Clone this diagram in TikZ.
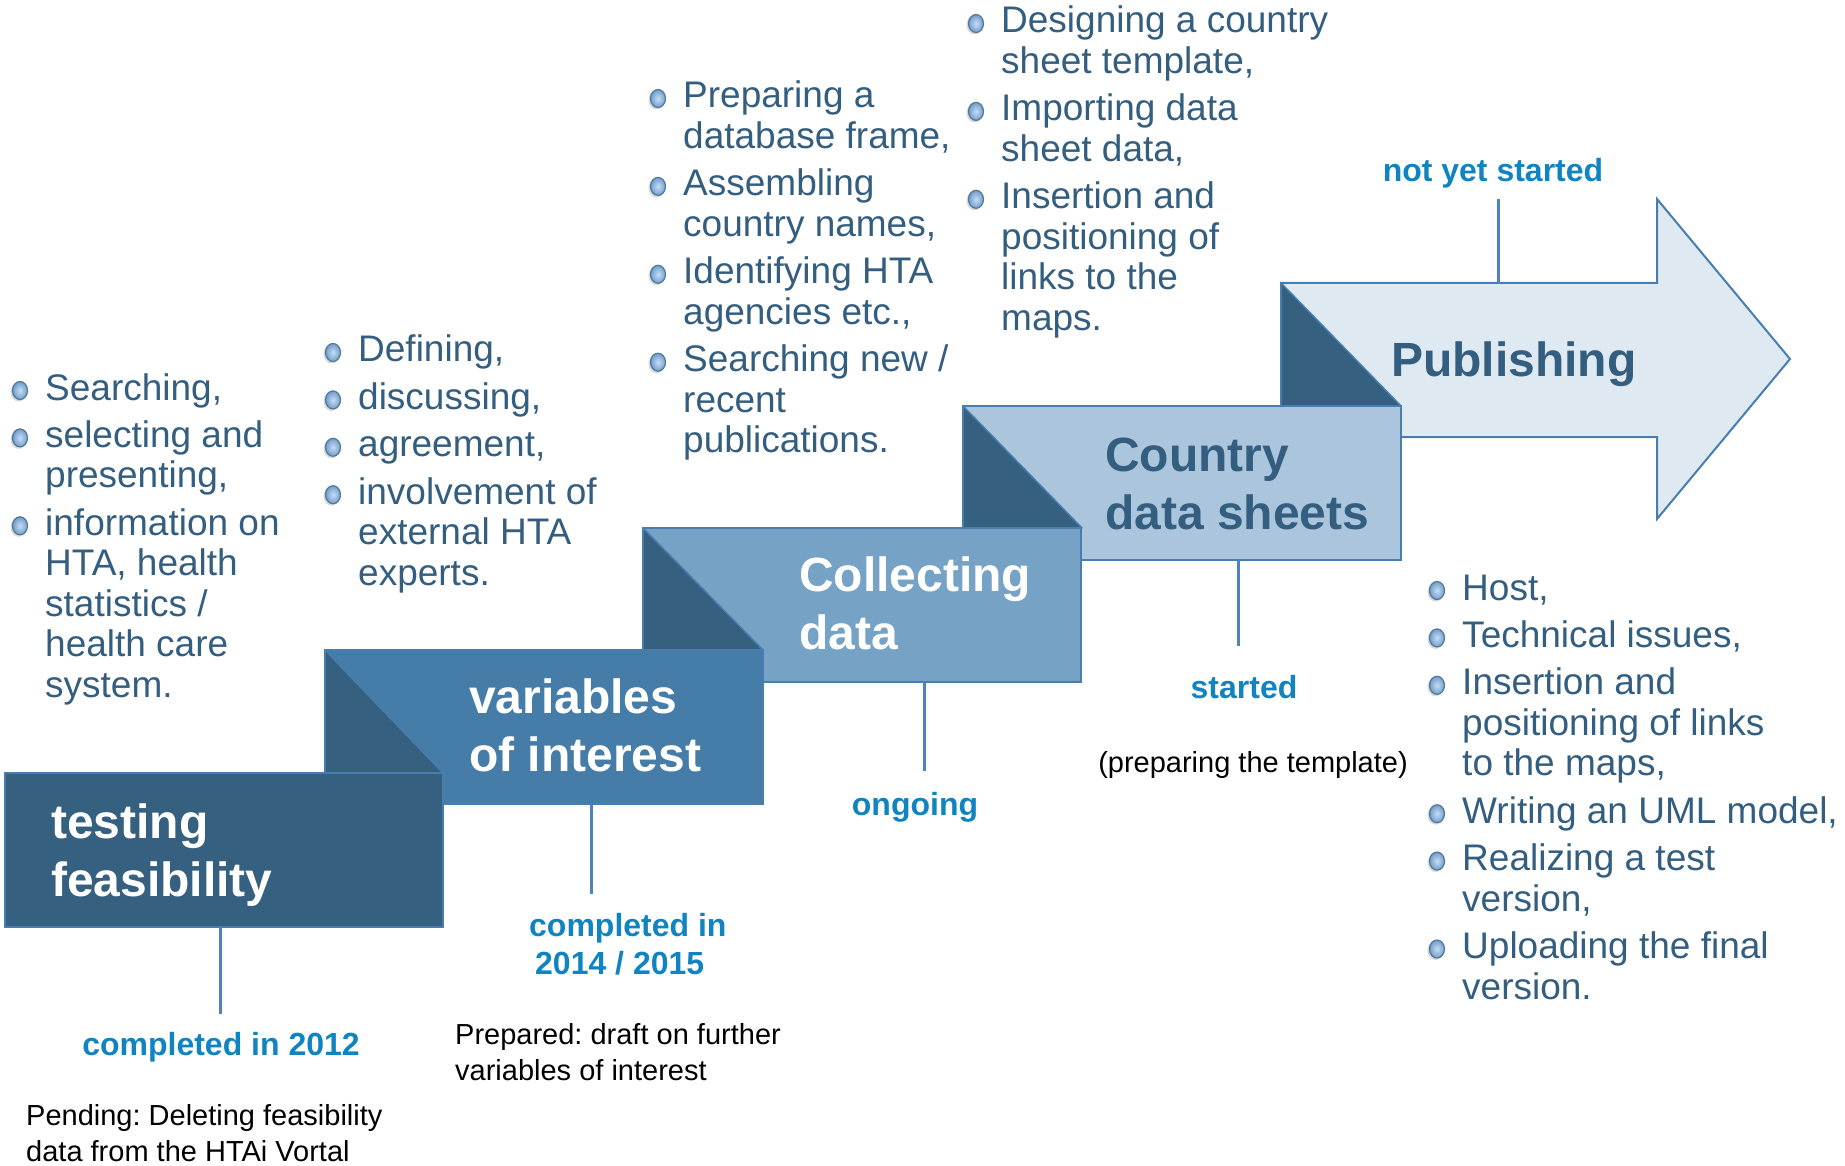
\documentclass[tikz,border=0pt]{standalone}
\usepackage{fontspec}
\setmainfont{Liberation Sans}
\usetikzlibrary{positioning,calc}
\frenchspacing

\definecolor{slate}{RGB}{54,96,127}
\definecolor{steel}{RGB}{69,124,168}
\definecolor{sky}{RGB}{118,162,198}
\definecolor{pale}{RGB}{171,198,220}
\definecolor{mist}{RGB}{223,233,242}
\definecolor{rim}{RGB}{72,125,176}
\definecolor{stemblue}{RGB}{79,129,189}
\definecolor{inkblue}{RGB}{52,94,128}
\definecolor{statusblue}{RGB}{16,132,192}
\definecolor{ballblue}{RGB}{130,178,232}

\newcommand{\linesof}[2][l]{\begin{tabular}[t]{@{}#1@{}}#2\end{tabular}}

\begin{document}
\begin{tikzpicture}[
x=1pt, y=-1pt,
stage/.style = {rectangle, draw=rim, line width=2pt, minimum width=438pt, minimum height=154pt, anchor=north west, inner sep=0pt, outer sep=0pt},
fold/.style = {fill=slate, draw=rim, line width=1.5pt, line join=round},
title/.style = {anchor=base west, inner sep=0pt, font=\bfseries\fontsize{48}{58}\selectfont, text=white},
task/.style = {anchor=base west, inner sep=0pt, font=\fontsize{37}{40.5}\selectfont, text=inkblue},
after/.style = {below=6.5pt of #1.south west, anchor=north west},
status/.style = {anchor=base, inner sep=0pt, font=\bfseries\fontsize{32}{38}\selectfont, text=statusblue},
remark/.style = {inner sep=0pt, font=\fontsize{29}{36}\selectfont, text=black},
stem/.style = {draw=stemblue, line width=3pt},
bead/.style = {inner color=ballblue!45!white, outer color=ballblue!75!slate, draw=slate!85, line width=1.2pt}
]
\useasboundingbox (0,0) rectangle (1845,1166);

% the arrow and the steps, back to front
\coordinate (pubNW) at (1281,283);
\draw[draw=rim, line width=2pt, fill=mist] (pubNW) -- ++(376,0) -- ++(0,-84) -- ++(133,160) -- ++(-133,160) -- ++(0,-82) -- ++(-376,0) -- cycle;
\draw[fold] (pubNW) -- ++(120,123) -- ++(-120,0) -- cycle;

\node[stage, fill=pale] (ctry) at (963,406) {};
\draw[fold] (ctry.north west) -- ++(119,122) -- ++(-119,0) -- cycle;

\node[stage, fill=sky] (coll) at (643,528) {};
\draw[fold] (coll.north west) -- ++(120,122) -- ++(-120,0) -- cycle;

\node[stage, fill=steel] (var) at (325,650) {};
\draw[fold] (var.north west) -- ++(118,123) -- ++(-118,0) -- cycle;

\node[stage, fill=slate] (feas) at (5,773) {};

% titles
\node[title] (feasTxt) at (51,838) {\linesof{testing\\feasibility}};
\node[title] (varTxt) at (469,713) {\linesof{variables\\of interest}};
\node[title] (collTxt) at (799,591) {\linesof{Collecting\\data}};
\node[title, text=inkblue] (ctryTxt) at (1105,471) {\linesof{Country\\data sheets}};
\node[title, text=inkblue] (pubTxt) at (1391,377) {Publishing};

% stems
\coordinate (feasEnd) at (220,1014);
\coordinate (varEnd) at (591,894);
\coordinate (collEnd) at (924,771);
\coordinate (ctryEnd) at (1238,646);
\coordinate (pubEnd) at (1498,199);
\draw[stem] (feas.south -| feasEnd) -- (feasEnd);
\draw[stem] (var.south -| varEnd) -- (varEnd);
\draw[stem] (coll.south -| collEnd) -- (collEnd);
\draw[stem] (ctry.south -| ctryEnd) -- (ctryEnd);
\draw[stem] (pubNW -| pubEnd) -- (pubEnd);

% status
\node[status] (feasLbl) at (221,1055) {completed in 2012};
\node[status, anchor=base west] (varLbl) at (529,936) {\linesof{completed in\\\hspace*{6pt}2014 / 2015}};
\node[status] (collLbl) at (915,815) {ongoing};
\node[status] (ctryLbl) at (1244,698) {started};
\node[status] (pubLbl) at (1493,182) {not yet started};

\node[remark, anchor=base west] (feasNote) at (26,1125) {\linesof{Pending: Deleting feasibility\\data from the HTAi Vortal}};
\node[remark, anchor=base west] (varNote) at (455,1044) {\linesof{Prepared: draft on further\\variables of interest}};
\node[remark, anchor=base] (ctryNote) at (1253,772) {(preparing the template)};

% task lists
\node[task] (f1) at (45,400) {\linesof{Searching,}};
\node[task, after=f1] (f2) {\linesof{selecting and\\presenting,}};
\node[task, after=f2] (f3) {\linesof{information on\\HTA, health\\statistics /\\health care\\system.}};

\node[task] (v1) at (358,362) {\linesof{Defining,}};
\node[task, after=v1] (v2) {\linesof{discussing,}};
\node[task, after=v2] (v3) {\linesof{agreement,}};
\node[task, after=v3] (v4) {\linesof{involvement of\\external HTA\\experts.}};

\node[task] (c1) at (683,108) {\linesof{Preparing a\\database frame,}};
\node[task, after=c1] (c2) {\linesof{Assembling\\country names,}};
\node[task, after=c2] (c3) {\linesof{Identifying HTA\\agencies etc.,}};
\node[task, after=c3] (c4) {\linesof{Searching new /\\recent\\publications.}};

\node[task] (s1) at (1001,33) {\linesof{Designing a country\\sheet template,}};
\node[task, after=s1] (s2) {\linesof{Importing data\\sheet data,}};
\node[task, after=s2] (s3) {\linesof{Insertion and\\positioning of\\links to the\\maps.}};

\node[task] (p1) at (1462,600) {\linesof{Host,}};
\node[task, after=p1] (p2) {\linesof{Technical issues,}};
\node[task, after=p2] (p3) {\linesof{Insertion and\\positioning of links\\to the maps,}};
\node[task, after=p3] (p4) {\linesof{Writing an UML model,}};
\node[task, after=p4] (p5) {\linesof{Realizing a test\\version,}};
\node[task, after=p5] (p6) {\linesof{Uploading the final\\version.}};

% bullets
\foreach \t in {f1,f2,f3,v1,v2,v3,v4,c1,c2,c3,c4,s1,s2,s3,p1,p2,p3,p4,p5,p6} {
  \fill[black!15] ([shift={(-26.5,-8)}]\t.base west) ellipse (8 and 9.5);
  \shade[bead] ([shift={(-25,-9.5)}]\t.base west) ellipse (7.5 and 9);
}

\end{tikzpicture}
\end{document}
